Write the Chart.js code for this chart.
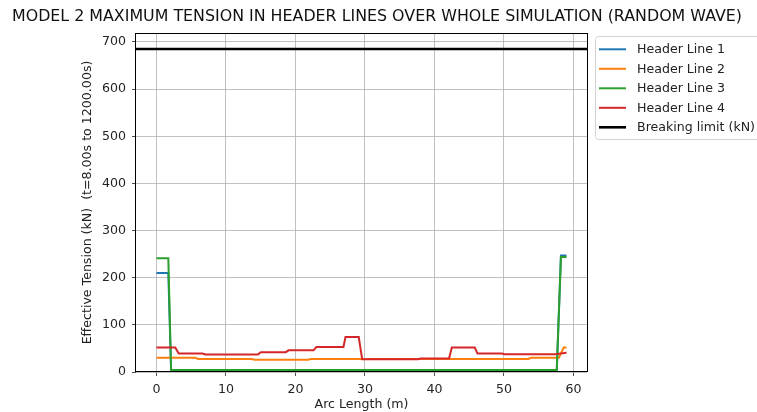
<!DOCTYPE html>
<html>
<head>
<meta charset="utf-8">
<script src="https://cdn.jsdelivr.net/npm/chart.js@4.4.1/dist/chart.umd.min.js"></script>
<style>
  html, body { margin: 0; padding: 0; background: #fff; }
  #chart { display: block; }
</style>
</head>
<body>
<canvas id="chart" width="757" height="412"></canvas>
<script>
// arc length (m) / max effective tension (kN) per header line
const arcLine1 = [0, 1.7, 2.1, 57.6, 58.2, 59];
const tensionLine1 = [210, 210, 4, 4, 247, 247];

const arcLine2 = [0, 5.6, 6.0, 13.7, 14.1, 21.8, 22.2, 53.5, 53.9, 57.9, 58.6, 59];
const tensionLine2 = [30, 30, 27.5, 27.5, 26, 26, 27.5, 27.5, 30, 30, 52, 52];

const arcLine3 = [0, 1.7, 2.1, 57.6, 58.2, 59];
const tensionLine3 = [241, 241, 4, 4, 244, 244];

const arcLine4 = [0, 2.7, 3.2, 6.6, 7.0, 14.6, 15.0, 18.6, 19.0, 22.6, 23.0, 26.9, 27.2,
                  29.1, 29.6, 37.6, 38.0, 42.1, 42.5, 45.8, 46.2, 49.7, 50.1, 57.4, 59];
const tensionLine4 = [52, 52, 39, 39, 37, 37, 42, 42, 46, 46, 53, 53, 74,
                      74, 27, 27, 28.5, 28.5, 52, 52, 39, 39, 37.5, 37.5, 41];

const breakingLimit = 685;

const xRange = [-2.95, 61.95];
const yRange = [0, 719];
const xTicks = [0, 10, 20, 30, 40, 50, 60];
const yTicks = [0, 100, 200, 300, 400, 500, 600, 700];

const seriesNames = ['Header Line 1', 'Header Line 2', 'Header Line 3', 'Header Line 4', 'Breaking limit (kN)'];
const seriesColors = ['#1f77b4', '#ff7f0e', '#2ca02c', '#d62728', '#000000'];

const FONT = 'DejaVu Sans';
const FONT_SIZE = 12.6;
const TEXT = '#222';

function toPoints(xs, ys) {
    return xs.map((x, i) => ({ x: x, y: ys[i] }));
}

function lineSet(i, xs, ys, width, order) {
    return {
        label: seriesNames[i],
        data: toPoints(xs, ys),
        borderColor: seriesColors[i],
        backgroundColor: seriesColors[i],
        borderWidth: width,
        showLine: true,
        pointRadius: 0,
        fill: false,
        tension: 0,
        order: order
    };
}

// title, plot frame and legend box
const decorations = {
    id: 'decorations',
    afterDraw(chart) {
        const ctx = chart.ctx;
        const a = chart.chartArea;

        ctx.save();
        ctx.strokeStyle = '#000';
        ctx.lineWidth = 1;
        ctx.strokeRect(Math.round(a.left) - 0.5, Math.round(a.top) + 0.5,
                       Math.round(a.right - a.left) + 1, Math.round(a.bottom - a.top) - 1);
        ctx.restore();

        // title, squeezed to fit the width
        const title = 'MODEL 2 MAXIMUM TENSION IN HEADER LINES OVER WHOLE SIMULATION (RANDOM WAVE)';
        ctx.save();
        ctx.font = `16.5px "${FONT}"`;
        ctx.fillStyle = '#111';
        ctx.textBaseline = 'middle';
        ctx.textAlign = 'center';
        const w = ctx.measureText(title).width;
        const sx = 730 / w;
        ctx.translate(377, 17);
        ctx.scale(sx, 1);
        ctx.fillText(title, 0, 0);
        ctx.restore();

        // legend
        ctx.save();
        const bx = 595.5, by = 36.5, bw = 175, bh = 103, r = 3;
        ctx.beginPath();
        ctx.moveTo(bx + r, by);
        ctx.lineTo(bx + bw - r, by);
        ctx.arcTo(bx + bw, by, bx + bw, by + r, r);
        ctx.lineTo(bx + bw, by + bh - r);
        ctx.arcTo(bx + bw, by + bh, bx + bw - r, by + bh, r);
        ctx.lineTo(bx + r, by + bh);
        ctx.arcTo(bx, by + bh, bx, by + bh - r, r);
        ctx.lineTo(bx, by + r);
        ctx.arcTo(bx, by, bx + r, by, r);
        ctx.closePath();
        ctx.fillStyle = 'rgba(255,255,255,0.8)';
        ctx.fill();
        ctx.strokeStyle = '#d3d3d3';
        ctx.lineWidth = 1;
        ctx.stroke();

        ctx.font = `${FONT_SIZE}px "${FONT}"`;
        ctx.textBaseline = 'middle';
        ctx.textAlign = 'left';
        seriesNames.forEach((name, i) => {
            const y = 49.3 + i * 19.5;
            ctx.beginPath();
            ctx.moveTo(599, y);
            ctx.lineTo(626, y);
            ctx.strokeStyle = seriesColors[i];
            ctx.lineWidth = i === 4 ? 2.6 : 2;
            ctx.stroke();
            ctx.fillStyle = TEXT;
            ctx.fillText(name, 637, y + 0.5);
        });
        ctx.restore();
    }
};

new Chart(document.getElementById('chart'), {
    type: 'scatter',
    data: {
        datasets: [
            lineSet(0, arcLine1, tensionLine1, 2, 4),
            lineSet(1, arcLine2, tensionLine2, 2, 3),
            lineSet(2, arcLine3, tensionLine3, 2, 2),
            lineSet(3, arcLine4, tensionLine4, 2, 1),
            lineSet(4, xRange, [breakingLimit, breakingLimit], 2.5, 0)
        ]
    },
    options: {
        responsive: false,
        animation: false,
        devicePixelRatio: 1,
        layout: { padding: { top: 33, right: 170, left: 0, bottom: 0 } },
        plugins: {
            legend: { display: false },
            title: { display: false },
            tooltip: { enabled: false }
        },
        scales: {
            x: {
                type: 'linear',
                min: xRange[0],
                max: xRange[1],
                afterBuildTicks: s => { s.ticks = xTicks.map(v => ({ value: v })); },
                afterFit: s => { s.height = 40; },
                grid: { color: '#b0b0b0', lineWidth: 0.8, drawTicks: true, tickLength: 4, tickColor: '#222' },
                border: { display: false },
                ticks: { color: TEXT, font: { family: FONT, size: FONT_SIZE }, padding: 6, maxRotation: 0 },
                title: {
                    display: true,
                    text: 'Arc Length (m)',
                    color: TEXT,
                    font: { family: FONT, size: FONT_SIZE },
                    padding: { top: 0, bottom: 0 }
                }
            },
            y: {
                type: 'linear',
                min: yRange[0],
                max: yRange[1],
                afterBuildTicks: s => { s.ticks = yTicks.map(v => ({ value: v })); },
                afterFit: s => { s.width = 136; },
                grid: { color: '#b0b0b0', lineWidth: 0.8, drawTicks: true, tickLength: 4, tickColor: '#222' },
                border: { display: false },
                ticks: { color: TEXT, font: { family: FONT, size: FONT_SIZE }, padding: 6 },
                title: {
                    display: true,
                    text: 'Effective Tension (kN)  (t=8.00s to 1200.00s)',
                    color: TEXT,
                    font: { family: FONT, size: FONT_SIZE },
                    padding: { top: 80.5, bottom: 0 }
                }
            }
        }
    },
    plugins: [decorations]
});
</script>
</body>
</html>
